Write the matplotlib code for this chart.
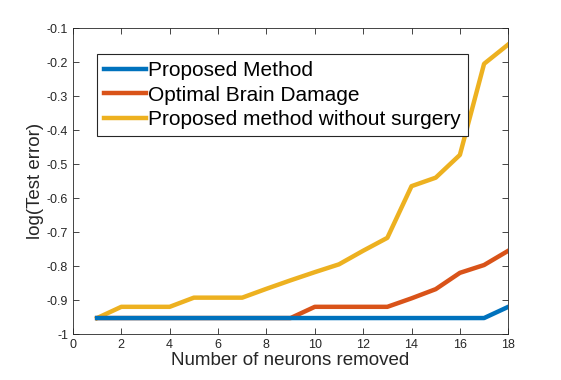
import matplotlib
matplotlib.use('Agg')
import matplotlib.pyplot as plt
import numpy as np

# neurons removed vs log(test error)
n_removed = np.arange(1, 19)
proposed = [-0.953]*17 + [-0.92]
obd = [-0.953]*9 + [-0.92, -0.92, -0.92, -0.92, -0.895, -0.868, -0.82, -0.797, -0.755]
no_surgery = [-0.953, -0.92, -0.92, -0.92, -0.893, -0.893, -0.893, -0.867, -0.842,
              -0.818, -0.795, -0.755, -0.717, -0.565, -0.54, -0.473, -0.205, -0.148]

labels = ['Proposed Method', 'Optimal Brain Damage', 'Proposed method without surgery']

plt.rcParams['font.family'] = ['Liberation Sans', 'DejaVu Sans']

fig = plt.figure(figsize=(5.61, 3.8), dpi=100)
ax = fig.add_axes([0.13, 0.121, 0.776, 0.805])

ax.plot(n_removed, no_surgery, color='#EDB120', lw=3.2, label=labels[2], zorder=1)
ax.plot(n_removed, obd, color='#D95319', lw=3.2, label=labels[1], zorder=2)
ax.plot(n_removed, proposed, color='#0072BD', lw=3.2, label=labels[0], zorder=3)

ax.set_xlim(0, 18)
ax.set_ylim(-1, -0.1)
ax.set_xticks(np.arange(0, 19, 2))
ax.set_yticks(np.round(np.arange(-1, -0.05, 0.1), 1))
ax.set_yticklabels(['-1', '-0.9', '-0.8', '-0.7', '-0.6', '-0.5', '-0.4', '-0.3', '-0.2', '-0.1'])
ax.tick_params(direction='in', top=True, right=True, labelsize=9, colors='#262626',
               length=4, width=0.6)
for s in ax.spines.values():
    s.set_color('#262626')
    s.set_linewidth(0.6)

ax.set_xlabel('Number of neurons removed', fontsize=13.5, color='#262626', labelpad=1)
ax.set_ylabel('log(Test error)', fontsize=13.5, color='#262626', labelpad=2)

h, l = ax.get_legend_handles_labels()
leg = ax.legend(h[::-1], l[::-1], loc='upper left', bbox_to_anchor=(0.055, 0.915),
                borderaxespad=0, fontsize=15, fancybox=False, framealpha=1,
                edgecolor='#262626', handlelength=2.0, handletextpad=0.1,
                labelspacing=0.25, borderpad=0.35)
leg.get_frame().set_linewidth(0.8)

fig.savefig('out.png', dpi=100)
